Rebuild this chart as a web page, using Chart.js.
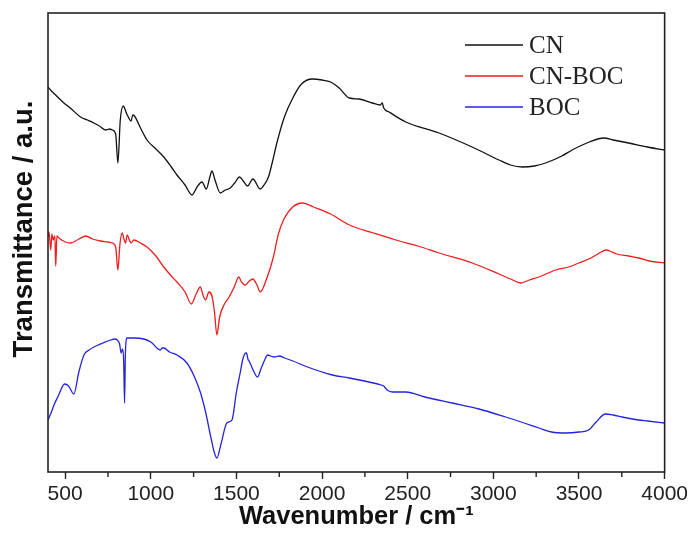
<!DOCTYPE html>
<html>
<head>
<meta charset="utf-8">
<script src="https://cdn.jsdelivr.net/npm/chart.js@4.4.1/dist/chart.umd.min.js"></script>
<style>
  html,body{margin:0;padding:0;background:#fff;}
  #wrap{width:691px;height:533px;}
</style>
</head>
<body>
<div id="wrap"><canvas id="c" width="691" height="533"></canvas></div>
<script>
// ---- data (wavenumber, relative transmittance in arbitrary units) ----
const seriesLabels = ['CN', 'CN-BOC', 'BOC'];
const xTicks = [500, 1000, 1500, 2000, 2500, 3000, 3500, 4000];
const xMinorTicks = [750, 1250, 1750, 2250, 2750, 3250, 3750];

const cnX = [400,420,450,493,530,590,630,668,700,736,760,775,795,808,822,839,860,885,895,905,940,978,1030,1076,1120,1153,1200,1241,1270,1299,1324,1345,1357,1375,1406,1435,1464,1490,1518,1540,1565,1596,1639,1665,1687,1710,1736,1780,1829,1880,1944,2000,2050,2100,2159,2217,2293,2340,2351,2360,2392,2489,2683,2876,3033,3100,3169,3240,3305,3400,3460,3560,3645,3700,3790,3900,4000];
const cnY = [385,381,376,369,364,355,352,349,346,342,343,342,338,309,352,366,358,351,357,356,344,332,323,315,305,297,287,277,285,290,283,295,301,292,279,282,284,289,295,291,286,293,283,288,295,310,329,355,374,388,393,392,390,384,374,373,369,367,369,364,360,350,339,325,312,307,305,306,309,316,322,330,334,332,329,325,322];

const cnbocX = [400,406,416,423,430,440,445,452,464,480,500,532,580,620,660,707,750,775,795,808,820,833,845,853,862,875,885,901,940,978,1030,1076,1120,1153,1200,1237,1265,1289,1305,1319,1340,1357,1372,1386,1402,1430,1454,1490,1513,1530,1552,1575,1596,1620,1639,1680,1716,1745,1775,1829,1887,1950,2050,2159,2300,2431,2560,2683,2876,3033,3100,3161,3210,3266,3365,3440,3499,3570,3630,3660,3680,3720,3790,3850,3910,4000];
const cnbocY = [235,240,222,238,232,236,206,236,234,232,230,229,233,236,233,231,230,229,225,202,228,239,232,229,237,232,229,232,229,225,216,205,196,190,180,168,178,185,177,172,180,176,160,137,155,168,174,186,195,190,187,191,193,187,180,195,215,238,252,265,269,265,258,247,239,232,226,219,209,198,193,189,192,195,202,205,209,214,220,222,221,218,216,214,211,209];

const bocX = [400,420,435,460,497,520,551,580,610,640,668,720,765,790,804,818,827,835,842,847,852,862,900,959,1000,1056,1066,1076,1110,1153,1211,1250,1289,1320,1348,1370,1386,1410,1444,1474,1500,1523,1536,1548,1559,1567,1577,1600,1623,1645,1665,1682,1700,1722,1750,1781,1830,1915,2060,2159,2300,2344,2360,2380,2411,2489,2600,2759,2916,3072,3180,3266,3340,3421,3500,3557,3600,3654,3700,3751,3848,3900,4000];
const bocY = [52,60,67,76,88,86,78,100,117,122,125,129,132,133,132,128,119,123,110,69,120,134,134,133,130,122,124,124,120,117,109,97,80,60,37,20,14,28,49,52,80,100,112,118,119,113,110,101,95,104,112,117,116,115,116,114,111,105,97,94,89,87,86,82,80,80,75,69,63,55,49,44,40,39,40,42,50,58,57,55,52,51,49];

const seriesColors = ['#111111', '#ee1c1c', '#2323dd'];
const yTitle = 'Transmittance / a.u.';

function pairs(xs, ys){ return xs.map((x,i)=>({x:x, y:ys[i]})); }

// frame + minor ticks + legend + y title
const decor = {
  id: 'decor',
  afterDraw(chart){
    const {ctx, chartArea:a} = chart;
    const xs = chart.scales.x;
    ctx.save();
    ctx.strokeStyle = '#222';
    ctx.lineWidth = 1.6;
    ctx.strokeRect(a.left, a.top, a.right - a.left, a.bottom - a.top);
    // minor ticks
    ctx.lineWidth = 1.4;
    xMinorTicks.forEach(v => {
      const px = xs.getPixelForValue(v);
      ctx.beginPath(); ctx.moveTo(px, a.bottom); ctx.lineTo(px, a.bottom + 5); ctx.stroke();
    });
    // legend
    const ly = [45, 76, 107];
    chart.data.datasets.forEach((ds, i) => {
      ctx.strokeStyle = ds.borderColor;
      ctx.lineWidth = 1.5;
      ctx.beginPath(); ctx.moveTo(465, ly[i]); ctx.lineTo(523, ly[i]); ctx.stroke();
      ctx.fillStyle = '#222';
      ctx.font = '25px "Liberation Serif", "Times New Roman", serif';
      ctx.textBaseline = 'middle';
      ctx.textAlign = 'left';
      ctx.fillText(ds.label, 529, ly[i] + 1);
    });
    // y axis title
    ctx.translate(24, 229);
    ctx.rotate(-Math.PI / 2);
    ctx.fillStyle = '#111';
    ctx.font = 'bold 27.5px "Liberation Sans", Arial, sans-serif';
    ctx.textAlign = 'center';
    ctx.textBaseline = 'middle';
    ctx.fillText(yTitle, 0, 0);
    ctx.restore();
  }
};

new Chart(document.getElementById('c'), {
  type: 'line',
  data: {
    datasets: [
      {label: seriesLabels[0], data: pairs(cnX, cnY), borderColor: seriesColors[0]},
      {label: seriesLabels[1], data: pairs(cnbocX, cnbocY), borderColor: seriesColors[1]},
      {label: seriesLabels[2], data: pairs(bocX, bocY), borderColor: seriesColors[2]}
    ].map(d => Object.assign(d, {borderWidth: 1.3, pointRadius: 0, fill: false, cubicInterpolationMode: 'monotone'}))
  },
  options: {
    responsive: false,
    animation: false,
    layout: {padding: {left: 0, right: 25, top: 13, bottom: 0}},
    plugins: {legend: {display: false}, tooltip: {enabled: false}},
    scales: {
      x: {
        type: 'linear', min: 400, max: 4000,
        afterBuildTicks: s => { s.ticks = xTicks.map(v => ({value: v})); },
        afterFit: s => { s.height = 61; },
        border: {display: false},
        grid: {drawOnChartArea: false, tickLength: 7, tickWidth: 1.4, tickColor: '#222'},
        ticks: {
          autoSkip: false, maxRotation: 0, padding: 3,
          color: '#222',
          font: {family: '"Liberation Sans", Arial, sans-serif', size: 21},
          callback: v => String(v)
        },
        title: {
          display: true, text: 'Wavenumber / cm\u207B\u00B9', color: '#111',
          font: {family: '"Liberation Sans", Arial, sans-serif', size: 25.5, weight: 'bold'},
          padding: {top: 0, bottom: 1}
        }
      },
      y: {
        type: 'linear', min: 0, max: 459,
        afterFit: s => { s.width = 48; },
        border: {display: false},
        grid: {display: false},
        ticks: {display: false}
      }
    }
  },
  plugins: [decor]
});
</script>
</body>
</html>
